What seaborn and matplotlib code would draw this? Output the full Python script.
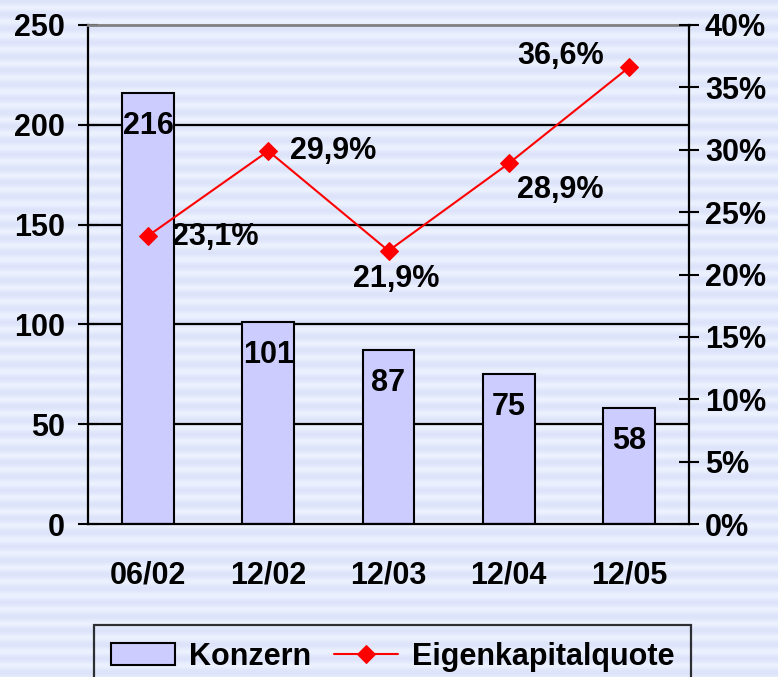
import numpy as np
import matplotlib.pyplot as plt
import seaborn as sns
from matplotlib.ticker import FixedLocator, FuncFormatter

# Daten
perioden = ["06/02", "12/02", "12/03", "12/04", "12/05"]
konzern = [216, 101, 87, 75, 58]
ek_quote = [23.1, 29.9, 21.9, 28.9, 36.6]
ek_labels = ["23,1%", "29,9%", "21,9%", "28,9%", "36,6%"]

sns.set_style("white")
plt.rcParams["font.family"] = ["Liberation Sans", "DejaVu Sans"]
plt.rcParams["font.weight"] = "bold"
plt.rcParams["text.color"] = "black"
plt.rcParams["xtick.color"] = "black"
plt.rcParams["ytick.color"] = "black"
FS = 22

fig = plt.figure(figsize=(7.78, 6.77), dpi=100)

# gestreifter Hintergrund
bg = fig.add_axes([0, 0, 1, 1], zorder=-10)
rows = np.arange(677)
w = 0.5 + 0.5 * np.cos(2 * np.pi * rows / 14.0)
c1 = np.array([236, 241, 255]) / 255
c2 = np.array([221, 227, 249]) / 255
img = (c1[None, :] * (1 - w[:, None]) + c2[None, :] * w[:, None])[:, None, :]
bg.imshow(img, aspect="auto", extent=[0, 1, 0, 1])
bg.axis("off")

ax = fig.add_axes([88 / 778, 1 - 524 / 677, (689 - 88) / 778, (524 - 25) / 677])
ax.set_facecolor("none")

sns.barplot(x=perioden, y=konzern, color="#CCCCFF", edgecolor="black",
            linewidth=1.5, width=0.43, saturation=1, ax=ax, zorder=2,
            label="Konzern")
if ax.get_legend() is not None:
    ax.get_legend().remove()
ax.set_ylim(0, 250)
ax.set_xlim(-0.5, 4.5)
ax.set_yticks(range(0, 251, 50))
for v in range(50, 250, 50):
    ax.axhline(v, color="black", lw=1.6, zorder=1)

for sp in ["left", "bottom"]:
    ax.spines[sp].set_color("black")
    ax.spines[sp].set_linewidth(1.6)
ax.spines["top"].set_color("#808080")
ax.spines["top"].set_linewidth(2)
ax.spines["right"].set_visible(False)

ax.tick_params(axis="y", direction="inout", length=15, width=1.5, pad=9,
               labelsize=FS, labelcolor="black", color="black")
ax.xaxis.set_minor_locator(FixedLocator(np.arange(-0.5, 5, 1)))
ax.tick_params(axis="x", which="major", length=0, pad=26, labelsize=FS,
               labelcolor="black")
ax.tick_params(axis="x", which="minor", direction="inout", length=15,
               width=1.5, color="black")
ax.set_xlabel("")
ax.set_ylabel("")

for i, v in enumerate(konzern):
    ax.annotate(str(v), (i, v), xytext=(0, -33), textcoords="offset pixels",
                ha="center", va="center", fontsize=FS, fontweight="bold")

ax2 = ax.twinx()
ax2.set_facecolor("none")
sns.lineplot(x=np.arange(len(ek_quote)), y=ek_quote, color="red", lw=1.5,
             marker="D", markersize=9, markeredgecolor="red", ax=ax2,
             label="Eigenkapitalquote", legend=False)
ax2.set_ylim(0, 40)
ax2.set_yticks(range(0, 41, 5))
ax2.yaxis.set_major_formatter(FuncFormatter(lambda v, p: f"{int(v)}%"))
for sp in ["left", "top", "bottom"]:
    ax2.spines[sp].set_visible(False)
ax2.spines["right"].set_color("black")
ax2.spines["right"].set_linewidth(1.6)
ax2.tick_params(axis="y", direction="inout", length=15, width=1.5, pad=4,
                labelsize=FS, labelcolor="black", color="black")
ax2.set_ylabel("")
if ax2.get_legend() is not None:
    ax2.get_legend().remove()

offs = [((24, -1), "left", "center"), ((22, 0), "left", "center"),
        ((8, -28), "center", "center"), ((8, -27), "left", "center"),
        ((-25, 11), "right", "center")]
for i, (v, t) in enumerate(zip(ek_quote, ek_labels)):
    (dx, dy), ha, va = offs[i]
    ax2.annotate(t, (i, v), xytext=(dx, dy), textcoords="offset pixels",
                 ha=ha, va=va, fontsize=FS, fontweight="bold")

h1, l1 = ax.get_legend_handles_labels()
h2, l2 = ax2.get_legend_handles_labels()
leg = fig.legend(h1 + h2, l1 + l2, loc="upper left",
                 bbox_to_anchor=(94 / 778, 1 - 625 / 677), ncol=2,
                 fontsize=FS, frameon=True, fancybox=False, borderaxespad=0,
                 handlelength=2.1, handletextpad=0.45, columnspacing=0.75,
                 borderpad=0.55, numpoints=1)
leg.get_frame().set_edgecolor("black")
leg.get_frame().set_linewidth(1.6)
leg.get_frame().set_facecolor("none")

fig.savefig("out.png", dpi=100)
